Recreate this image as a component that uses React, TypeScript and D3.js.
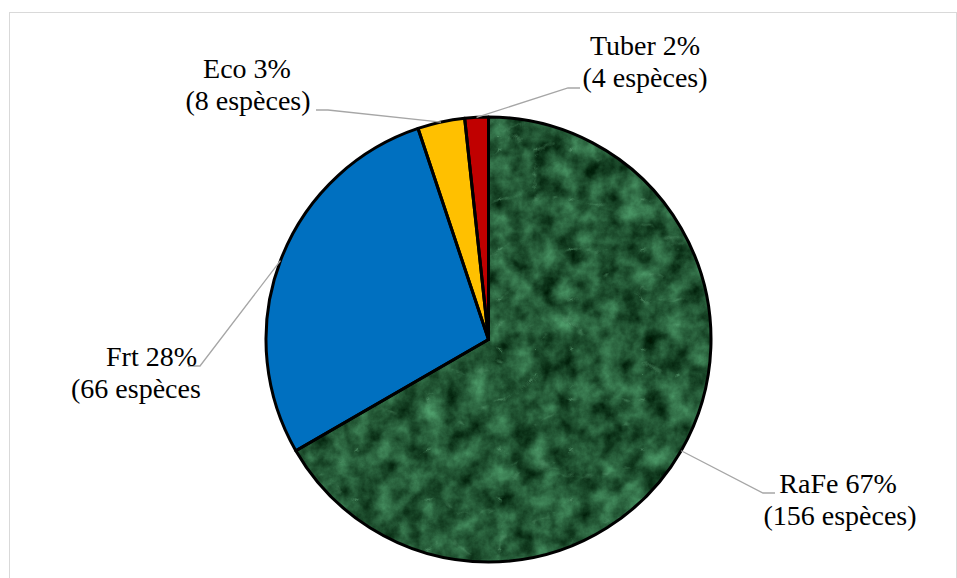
import React from "react";
import * as d3 from "d3";

// Species groups and their counts
const categories = ["RaFe", "Frt", "Eco", "Tuber"];
const speciesCounts = [156, 66, 8, 4];
const closers = [")", "", ")", ")"];
const sliceColors = ["url(#marble)", "#0070c0", "#ffc000", "#c00000"];

const W = 957;
const H = 578;
const cx = 488.5;
const cy = 339.5;
const R = 222.5;

// Label placement: text anchor points and elbow of each leader line
const labelLayout = [
  { l1: { x: 838, anchor: "middle" }, l2: { x: 840, anchor: "middle" }, y: 493, elbow: [763, 493], end: [775, 493] },
  { l1: { x: 197, anchor: "end" }, l2: { x: 71, anchor: "start" }, y: 366, elbow: [200, 366], end: [188, 366] },
  { l1: { x: 247, anchor: "middle" }, l2: { x: 248, anchor: "middle" }, y: 78, elbow: [328, 110], end: [316, 110] },
  { l1: { x: 645, anchor: "middle" }, l2: { x: 645, anchor: "middle" }, y: 55, elbow: [568, 88], end: [580, 88] },
];

const FONT = "'Liberation Serif', 'Times New Roman', serif";
const FONT_SIZE = "28px";

export default function App() {
  const total = d3.sum(speciesCounts);
  const pie = d3.pie<number>().sort(null).value((d) => d).startAngle(0).endAngle(2 * Math.PI);
  const arcs = pie(speciesCounts);
  const arc = d3.arc<d3.PieArcDatum<number>>().innerRadius(0).outerRadius(R);
  const edge = (a: d3.PieArcDatum<number>) => {
    const m = (a.startAngle + a.endAngle) / 2;
    return [Math.sin(m) * R, -Math.cos(m) * R];
  };

  return (
    <svg width={W} height={H} style={{ position: "absolute", left: 0, top: 0, background: "#fff" }}>
      <defs>
        {/* green marble fill for the largest slice */}
        <filter id="marbleFx" x={cx - R - 5} y={cy - R - 5} width={2 * R + 10} height={2 * R + 10}
          filterUnits="userSpaceOnUse" colorInterpolationFilters="sRGB">
          <feTurbulence type="fractalNoise" baseFrequency="0.045" numOctaves={5} seed={4} result="n1" />
          <feColorMatrix in="n1" type="matrix"
            values="0.4 0 0 0 -0.06  0.65 0 0 0 0.02  0.5 0 0 0 -0.04  0 0 0 0 1" result="base" />
          <feTurbulence type="turbulence" baseFrequency="0.014 0.02" numOctaves={4} seed={11} result="n2" />
          <feColorMatrix in="n2" type="matrix"
            values="0 0 0 0 0.4  0 0 0 0 0.66  0 0 0 0 0.49  -4 0 0 0 0.45" result="veins" />
          <feComposite in="veins" in2="base" operator="over" />
        </filter>
        <clipPath id="rafeClip">
          <path d={arc(arcs[0]) || ""} transform={`translate(${cx},${cy})`} />
        </clipPath>
      </defs>

      <rect x={9.5} y={12.5} width={947} height={600} fill="none" stroke="#d9d9d9" strokeWidth={1} />

      <g transform={`translate(${cx},${cy})`}>
        {arcs.map((a, i) => (
          <path key={categories[i]} d={arc(a) || ""} fill={i === 0 ? "#1e5a34" : sliceColors[i]} />
        ))}
      </g>
      <g clipPath="url(#rafeClip)">
        <rect x={cx - R} y={cy - R} width={2 * R} height={2 * R} fill="#1e5a34" filter="url(#marbleFx)" />
      </g>
      <g transform={`translate(${cx},${cy})`}>
        {arcs.map((a, i) => (
          <path key={categories[i]} d={arc(a) || ""} fill="none" stroke="#000" strokeWidth={3} strokeLinejoin="round" />
        ))}
      </g>

      {arcs.map((a, i) => {
        const [ex, ey] = edge(a);
        const lay = labelLayout[i];
        const pts: [number, number][] = [[cx + ex, cy + ey], lay.elbow as [number, number], lay.end as [number, number]];
        const pct = Math.round((speciesCounts[i] / total) * 100);
        return (
          <g key={categories[i]}>
            <path d={d3.line()(pts) || ""} fill="none" stroke="#a6a6a6" strokeWidth={1.3} />
            <text x={lay.l1.x} y={lay.y} textAnchor={lay.l1.anchor as any} style={{ fontFamily: FONT, fontSize: FONT_SIZE }} fill="#000">
              {`${categories[i]} ${pct}%`}
            </text>
            <text x={lay.l2.x} y={lay.y + 32} textAnchor={lay.l2.anchor as any} style={{ fontFamily: FONT, fontSize: FONT_SIZE }} fill="#000">
              {`(${speciesCounts[i]} espèces${closers[i]}`}
            </text>
          </g>
        );
      })}
    </svg>
  );
}
